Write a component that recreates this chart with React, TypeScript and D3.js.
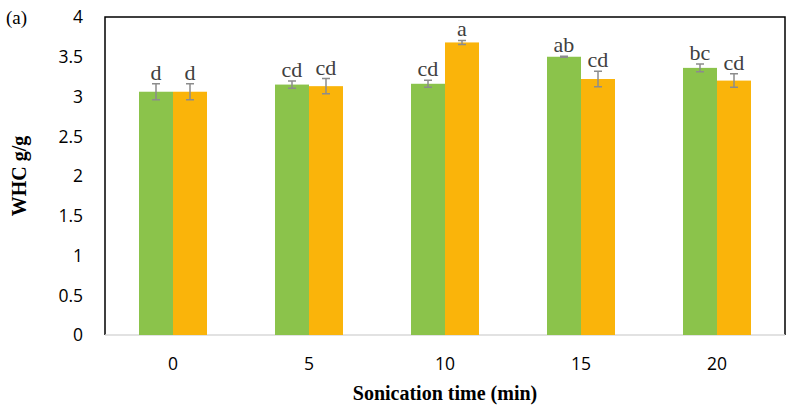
import React, { useEffect, useRef } from 'react';
import * as d3 from 'd3';

const categories = ['0', '5', '10', '15', '20'];
const seriesA = [3.06, 3.15, 3.16, 3.5, 3.36];
const seriesB = [3.06, 3.13, 3.68, 3.22, 3.2];
const errA = [0.1, 0.045, 0.045, 0.005, 0.048];
const errB = [0.1, 0.095, 0.025, 0.097, 0.085];
const lettersA = ['d', 'cd', 'cd', 'ab', 'bc'];
const lettersB = ['d', 'cd', 'a', 'cd', 'cd'];
const yTicks = [0, 0.5, 1, 1.5, 2, 2.5, 3, 3.5, 4];

const colors = ['#8BC34B', '#FAB40A'];

const App: React.FC = () => {
  const svgRef = useRef<SVGSVGElement>(null);

  useEffect(() => {
    if (!svgRef.current) return;
    const svg = d3.select(svgRef.current);
    svg.selectAll('*').remove();

    const margin = { top: 17, right: 1, bottom: 75, left: 105 };
    const width = 786;
    const height = 410;
    const innerW = width - margin.left - margin.right;
    const innerH = height - margin.top - margin.bottom;

    const g = svg.append('g').attr('transform', `translate(${margin.left},${margin.top})`);

    const x0 = d3.scaleBand().domain(categories).range([0, innerW]).paddingInner(0.5).paddingOuter(0.25);
    const x1 = d3.scaleBand().domain(['A', 'B']).range([0, x0.bandwidth()]);
    const y = d3.scaleLinear().domain([0, 4]).range([innerH, 0]);

    // frame
    g.append('path')
      .attr('d', `M0,${innerH}V0H${innerW}V${innerH}`)
      .attr('fill', 'none')
      .attr('stroke', '#000')
      .attr('stroke-width', 1.5);

    g.append('line')
      .attr('x1', 0).attr('x2', innerW)
      .attr('y1', innerH).attr('y2', innerH)
      .attr('stroke', '#d9d9d9')
      .attr('stroke-width', 1.5);

    // y tick labels
    g.selectAll('.ytick')
      .data(yTicks)
      .enter()
      .append('text')
      .attr('x', -22)
      .attr('y', d => y(d))
      .attr('dy', '0.36em')
      .attr('text-anchor', 'end')
      .style('font-family', '"Open Sans", sans-serif')
      .style('font-size', '17.5px')
      .style('fill', '#000')
      .text(d => String(d));

    // x tick labels
    g.selectAll('.xtick')
      .data(categories)
      .enter()
      .append('text')
      .attr('x', d => (x0(d) as number) + x0.bandwidth() / 2)
      .attr('y', innerH + 35)
      .attr('text-anchor', 'middle')
      .style('font-family', '"Open Sans", sans-serif')
      .style('font-size', '17.5px')
      .style('fill', '#000')
      .text(d => d);

    const series = [
      { key: 'A', values: seriesA, err: errA, letters: lettersA, color: colors[0] },
      { key: 'B', values: seriesB, err: errB, letters: lettersB, color: colors[1] },
    ];

    series.forEach(s => {
      const grp = g.append('g');
      categories.forEach((c, i) => {
        const bx = (x0(c) as number) + (x1(s.key) as number);
        const bw = x1.bandwidth();
        const cx = bx + bw / 2;
        const v = s.values[i];
        grp.append('rect')
          .attr('x', bx)
          .attr('y', y(v))
          .attr('width', bw)
          .attr('height', innerH - y(v))
          .attr('fill', s.color);

        const top = y(v + s.err[i]);
        const bot = y(v - s.err[i]);
        const cap = 4;
        grp.append('path')
          .attr('d', `M${cx},${top}V${bot}M${cx - cap},${top}H${cx + cap}M${cx - cap},${bot}H${cx + cap}`)
          .attr('stroke', '#8c8c8c')
          .attr('stroke-width', 1.5)
          .attr('fill', 'none');

        grp.append('text')
          .attr('x', cx)
          .attr('y', top - 4)
          .attr('text-anchor', 'middle')
          .style('font-family', '"Liberation Serif", "Times New Roman", serif')
          .style('font-size', '22px')
          .style('fill', '#404040')
          .text(s.letters[i]);
      });
    });

    // axis titles
    svg.append('text')
      .attr('transform', `translate(26,${margin.top + innerH / 2}) rotate(-90)`)
      .attr('text-anchor', 'middle')
      .style('font-family', '"Liberation Serif", "Times New Roman", serif')
      .style('font-size', '20px')
      .style('font-weight', 'bold')
      .text('WHC g/g');

    svg.append('text')
      .attr('x', margin.left + innerW / 2)
      .attr('y', 400)
      .attr('text-anchor', 'middle')
      .style('font-family', '"Liberation Serif", "Times New Roman", serif')
      .style('font-size', '20px')
      .style('font-weight', 'bold')
      .text('Sonication time (min)');

    svg.append('text')
      .attr('x', 6)
      .attr('y', 24)
      .style('font-family', '"Liberation Serif", "Times New Roman", serif')
      .style('font-size', '19px')
      .text('(a)');
  }, []);

  return (
    <svg
      ref={svgRef}
      width={786}
      height={410}
      style={{ position: 'absolute', left: 0, top: 0, background: '#fff' }}
    />
  );
};

export default App;
